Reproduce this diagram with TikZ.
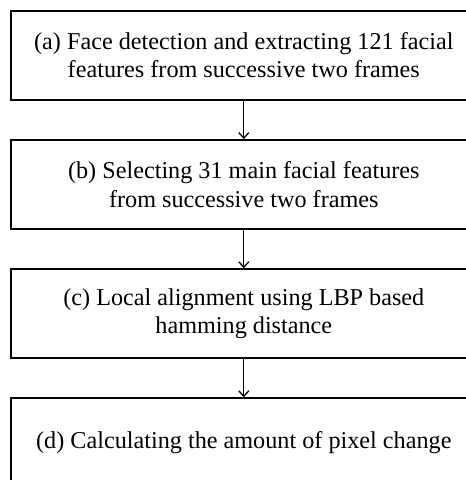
\documentclass[tikz,border=0pt]{standalone}
\usepackage{fontspec}
\setmainfont{Liberation Serif}
\usepackage{tikz}
\usetikzlibrary{arrows.meta,positioning}

\tikzset{
  stagebox/.style={draw, line width=1.6pt, minimum width=466pt, minimum height=89pt,
    align=center, inner sep=0pt, font=\fontsize{24.2}{28.5}\selectfont},
  flowarrow/.style={-{Straight Barb[length=5.5pt,width=10pt]}, line width=1.3pt}
}

\begin{document}
\begin{tikzpicture}[x=1pt, y=1pt, node distance=38.5pt]
  % picture frame (the boxes run past the right edge)
  \useasboundingbox (0,0) rectangle (466,-480);
  \clip (0,0) rectangle (466,-480);

  % Stages
  \node[stagebox, anchor=north west] (detect) at (10,-10)
    {(a) Face detection and extracting 121 facial\\features from successive two frames};
  \node[stagebox, below=of detect] (select)
    {(b) Selecting 31 main facial features\\from successive two frames};
  \node[stagebox, below=of select] (align)
    {(c) Local alignment using LBP based\\hamming distance};
  \node[stagebox, below=of align] (change)
    {(d) Calculating the amount of pixel change};

  % Arrows
  \draw[flowarrow] (detect) -- (select);
  \draw[flowarrow] (select) -- (align);
  \draw[flowarrow] (align) -- (change);
\end{tikzpicture}
\end{document}
